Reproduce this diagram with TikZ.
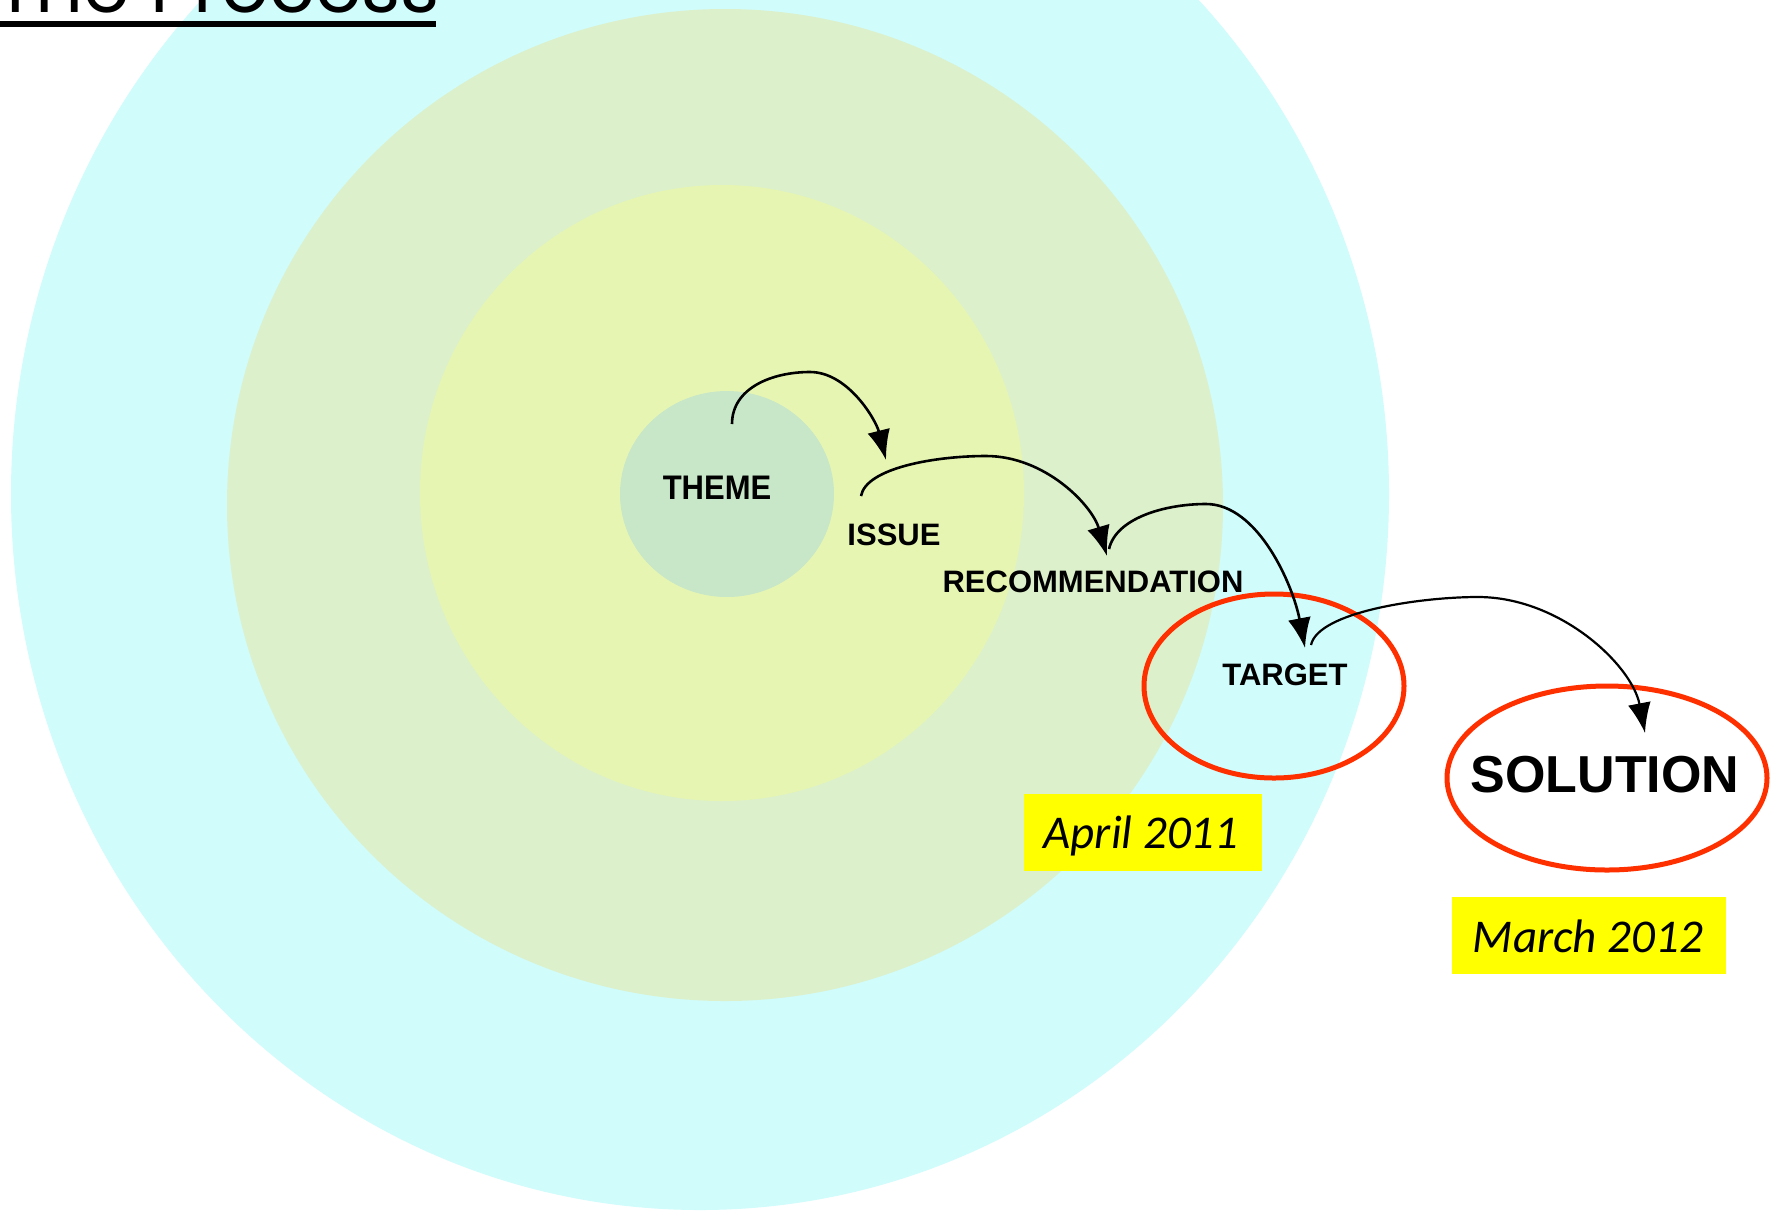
\documentclass[tikz,border=0pt]{standalone}
\usepackage{fontspec}
\setmainfont{Liberation Sans}
\newfontfamily\datefont{Carlito}
\newfontfamily\titlefont{Poppins}
\usetikzlibrary{arrows.meta}
\definecolor{outercyan}{RGB}{208,252,252}
\definecolor{midring}{RGB}{220,240,203}
\definecolor{innerring}{RGB}{230,246,178}
\definecolor{themefill}{RGB}{200,230,200}
\definecolor{ringred}{RGB}{255,48,0}
\definecolor{dateyellow}{RGB}{255,255,0}
\tikzset{
  lbl/.style={font=\bfseries\fontsize{31}{36}\selectfont, inner sep=0pt, text=black},
  biglbl/.style={font=\bfseries\fontsize{52}{60}\selectfont, inner sep=0pt, text=black},
  datebox/.style={fill=dateyellow, draw=none, inner sep=0pt},
  datetext/.style={font=\datefont\itshape\fontsize{47}{54}\selectfont, inner sep=0pt, text=black},
  flow/.style={draw=black, line width=2.6pt, -{Latex[length=30pt,width=23pt]}},
  redring/.style={draw=ringred, line width=5pt},
}
\begin{document}
\begin{tikzpicture}[x=1pt,y=-1pt]
\useasboundingbox (0,0) rectangle (1776,1211);
\fill[white] (0,0) rectangle (1776,1211);
% concentric rings
\fill[outercyan] (700,494) ellipse [x radius=689, y radius=716];
\fill[midring] (725,505) ellipse [x radius=498, y radius=496];
\fill[innerring] (722,493) ellipse [x radius=302, y radius=308];
\fill[themefill] (727,494) ellipse [x radius=107, y radius=103];
% title
\node[anchor=base west, inner sep=0pt, font=\titlefont\fontsize{75}{80}\selectfont] (title) at (-5,12) {The Process};
\draw[line width=6pt] (0,24) -- (436,24);
% red rings
\draw[redring] (1274,686) ellipse [x radius=130, y radius=92];
\draw[redring] (1607,778) ellipse [x radius=160, y radius=92];
% labels
\node[lbl] (theme) at (717,488) {\scalebox{1}[1.1]{THEME}};
\node[lbl] (issue) at (894,535) {ISSUE};
\node[lbl] (rec) at (1093,582) {RECOMMENDATION};
\node[lbl] (target) at (1285,675) {TARGET};
\node[biglbl] (solution) at (1605,775) {SOLUTION};
% dates
\node[datebox, minimum width=238pt, minimum height=77pt] (aprbox) at (1143,832.5) {};
\node[datetext, anchor=base] (apr) at (1141,848) {April 2011};
\node[datebox, minimum width=274pt, minimum height=77pt] (marbox) at (1589,935.5) {};
\node[datetext, anchor=base] (mar) at (1588,952) {March 2012};
% arrow end points
\coordinate (a1s) at (732,424);
\coordinate (a1e) at (886,460);
\coordinate (a2s) at (861,496);
\coordinate (a2e) at (1107,556);
\coordinate (a3s) at (1109,549);
\coordinate (a3e) at (1305,648);
\coordinate (a4s) at (1311,645);
\coordinate (a4e) at (1645,733);
% arrows
\draw[flow] (a1s) .. controls (732,388) and (772,372) .. (810,372) .. controls (848,372) and (876,420) .. (a1e);
\draw[flow] (a2s) .. controls (866,468) and (935,456) .. (986,456) .. controls (1045,456) and (1092,505) .. (a2e);
\draw[flow] (a3s) .. controls (1116,518) and (1165,504) .. (1206,504) .. controls (1258,504) and (1293,585) .. (a3e);
\draw[flow, line width=2.2pt] (a4s) .. controls (1318,612) and (1420,597) .. (1478,597) .. controls (1560,597) and (1632,665) .. (a4e);
\end{tikzpicture}
\end{document}
